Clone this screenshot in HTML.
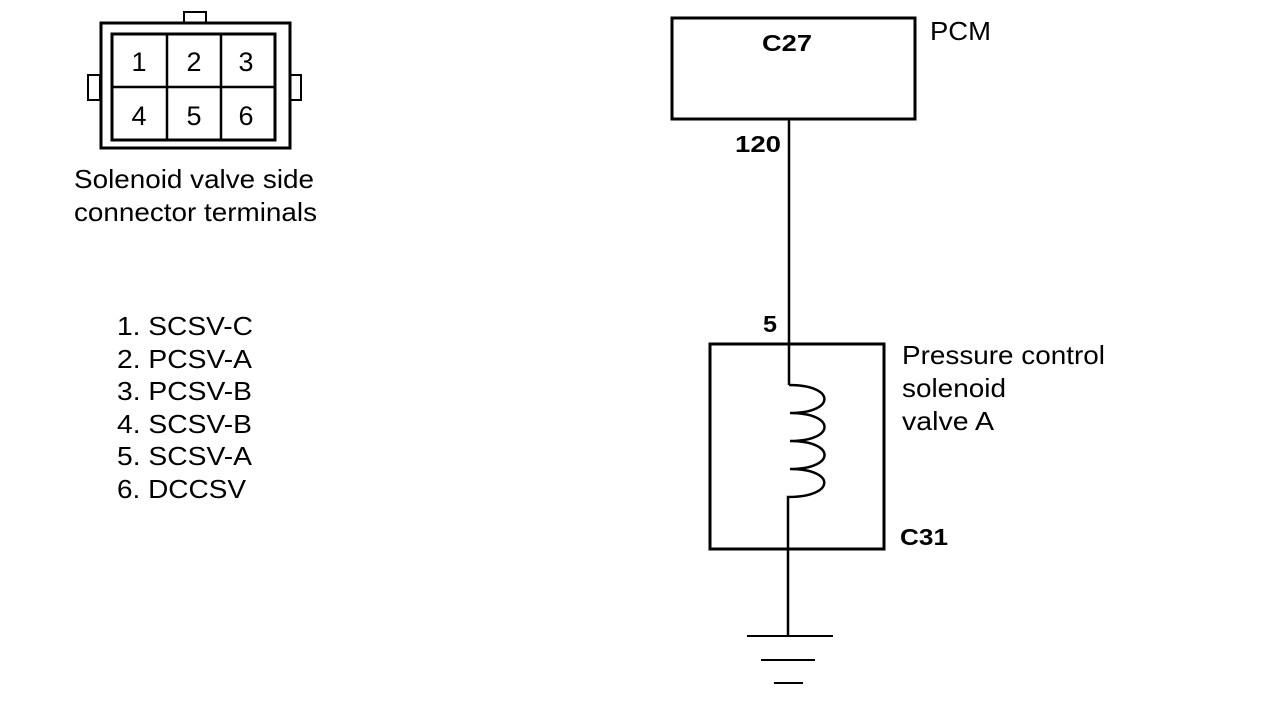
<!DOCTYPE html>
<html><head><meta charset="utf-8"><style>
html,body{margin:0;padding:0;background:#fff;}
svg{display:block;}
text{font-family:"Liberation Sans",Arial,sans-serif;fill:#000;}
</style></head><body>
<svg width="1280" height="704" viewBox="0 0 1280 704" xmlns="http://www.w3.org/2000/svg">
<g fill="none" stroke="#000">
  <rect x="184" y="12" width="22" height="11" stroke-width="2"/>
  <rect x="88" y="75" width="12" height="25" stroke-width="2"/>
  <rect x="290" y="75" width="11" height="25" stroke-width="2"/>
  <rect x="101" y="23" width="189" height="125" stroke-width="3" fill="#fff"/>
  <rect x="112" y="34" width="163" height="106" stroke-width="3"/>
  <line x1="167" y1="34" x2="167" y2="140" stroke-width="2.5"/>
  <line x1="221" y1="34" x2="221" y2="140" stroke-width="2.5"/>
  <line x1="112" y1="87" x2="275" y2="87" stroke-width="2.5"/>
  <rect x="672" y="18" width="243" height="101" stroke-width="3"/>
  <line x1="789" y1="119" x2="789" y2="385" stroke-width="2.5"/>
  <rect x="710" y="344" width="174" height="205" stroke-width="3"/>
  <path d="M789 385 C836 385,836 413,790 413 C836 413,836 441,790 441 C836 441,836 469,790 469 C836 469,836 497,788 497 L788 636" stroke-width="2.5"/>
  <line x1="747" y1="636" x2="833" y2="636" stroke-width="2"/>
  <line x1="761" y1="660" x2="815" y2="660" stroke-width="2"/>
  <line x1="774" y1="683" x2="803" y2="683" stroke-width="2"/>
</g>
<g font-size="27">
  <text x="139" y="71" text-anchor="middle">1</text>
  <text x="194" y="71" text-anchor="middle">2</text>
  <text x="246" y="71" text-anchor="middle">3</text>
  <text x="139" y="125" text-anchor="middle">4</text>
  <text x="194" y="125" text-anchor="middle">5</text>
  <text x="246" y="125" text-anchor="middle">6</text>
</g>
<g font-size="26" lengthAdjust="spacingAndGlyphs">
  <text x="74" y="188" textLength="240" lengthAdjust="spacingAndGlyphs">Solenoid valve side</text>
  <text x="74" y="221" textLength="243" lengthAdjust="spacingAndGlyphs">connector terminals</text>
  <text x="117" y="335" textLength="136" lengthAdjust="spacingAndGlyphs">1. SCSV-C</text>
  <text x="117" y="368" textLength="135" lengthAdjust="spacingAndGlyphs">2. PCSV-A</text>
  <text x="117" y="400" textLength="135" lengthAdjust="spacingAndGlyphs">3. PCSV-B</text>
  <text x="117" y="433" textLength="135" lengthAdjust="spacingAndGlyphs">4. SCSV-B</text>
  <text x="117" y="465" textLength="135" lengthAdjust="spacingAndGlyphs">5. SCSV-A</text>
  <text x="117" y="498" textLength="129" lengthAdjust="spacingAndGlyphs">6. DCCSV</text>
  <text x="930" y="40" textLength="61" lengthAdjust="spacingAndGlyphs">PCM</text>
  <text x="902" y="364" textLength="203" lengthAdjust="spacingAndGlyphs">Pressure control</text>
  <text x="902" y="397" textLength="104" lengthAdjust="spacingAndGlyphs">solenoid</text>
  <text x="902" y="430" textLength="92" lengthAdjust="spacingAndGlyphs">valve A</text>
</g>
<g font-size="23" font-weight="bold">
  <text x="762" y="51" textLength="50" lengthAdjust="spacingAndGlyphs">C27</text>
  <text x="735" y="152" textLength="46" lengthAdjust="spacingAndGlyphs">120</text>
  <text x="763" y="332" textLength="14" lengthAdjust="spacingAndGlyphs">5</text>
  <text x="900" y="545" textLength="48" lengthAdjust="spacingAndGlyphs">C31</text>
</g>
</svg>
</body></html>
